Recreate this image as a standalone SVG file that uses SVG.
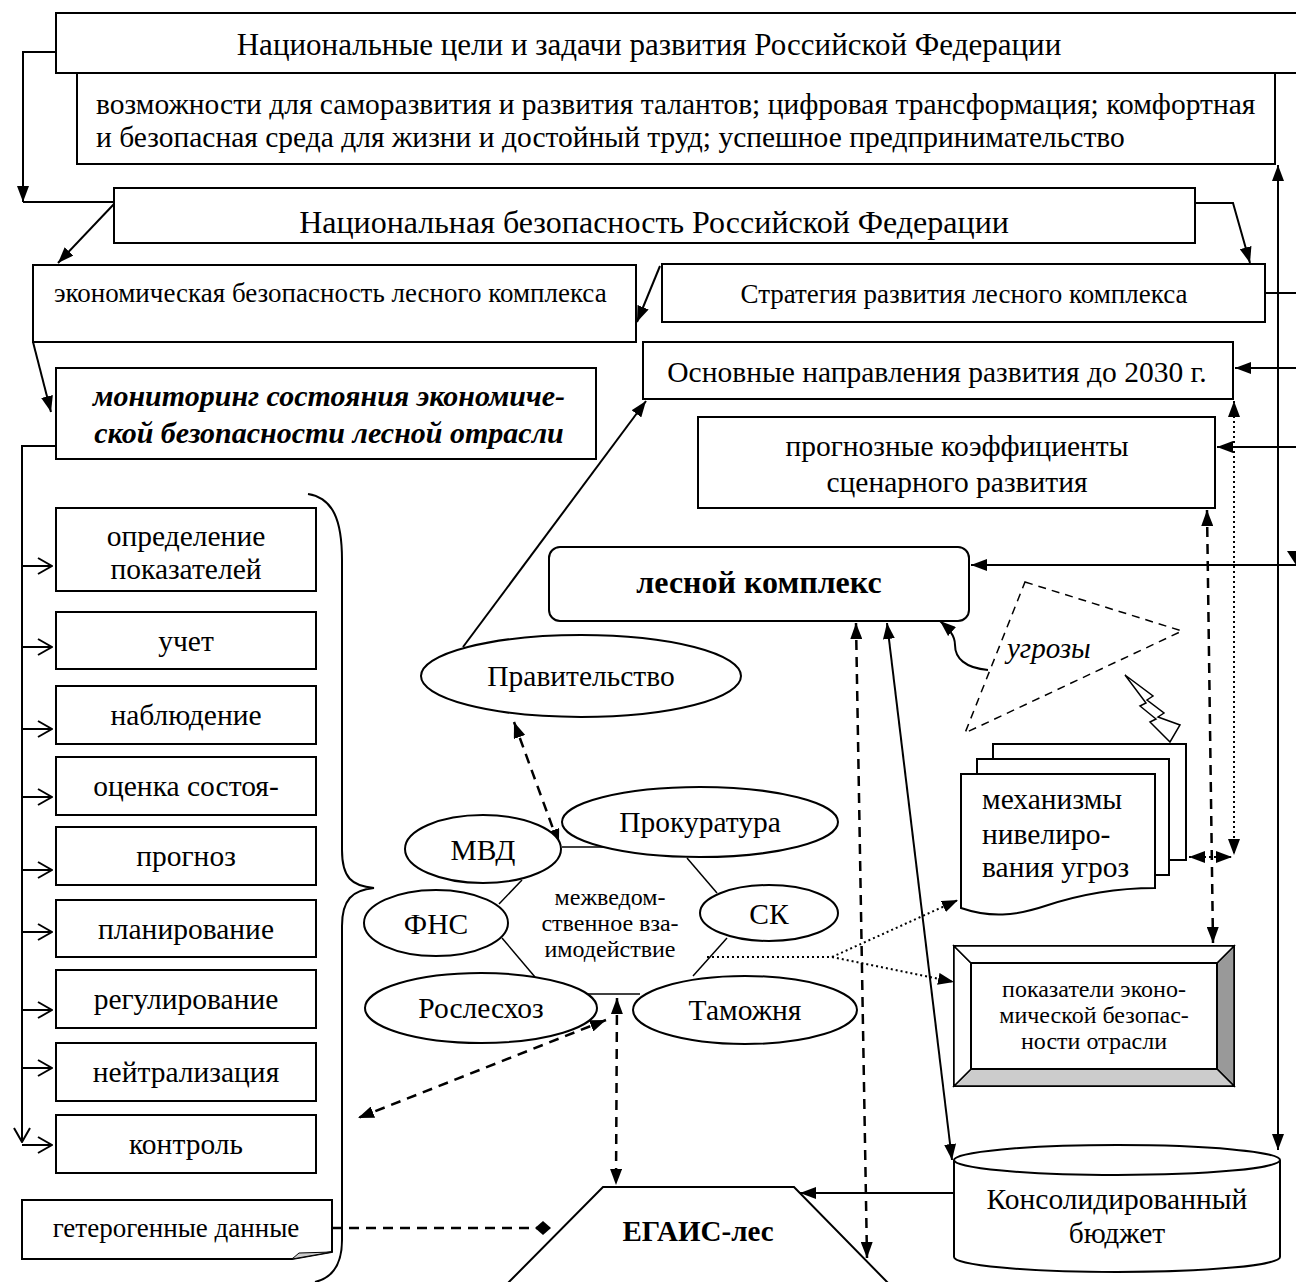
<svg xmlns="http://www.w3.org/2000/svg" width="1296" height="1282" viewBox="0 0 1296 1282">
<style>
text{font-family:"Liberation Serif","Times New Roman",serif;fill:#000}
.c{text-anchor:middle}
.box{fill:#fff;stroke:#000;stroke-width:2}
.ell{fill:#fff;stroke:#000;stroke-width:2}
.ln{fill:none;stroke:#000;stroke-width:2}
.thin{fill:none;stroke:#000;stroke-width:1.5}
.dash{fill:none;stroke:#000;stroke-width:2.5;stroke-dasharray:10 7}
.dot{fill:none;stroke:#000;stroke-width:2;stroke-dasharray:2 3}
.f29{font-size:29.5px}
.f27{font-size:27px}
.f24{font-size:24px}
</style>
<defs>
<marker id="a" viewBox="0 0 16 12" refX="16" refY="6" markerWidth="16" markerHeight="12" markerUnits="userSpaceOnUse" orient="auto-start-reverse"><path d="M0,0 L16,6 L0,12 z" fill="#000"/></marker>
<marker id="o" viewBox="0 0 16 18" refX="15" refY="9" markerWidth="16" markerHeight="18" markerUnits="userSpaceOnUse" orient="auto"><path d="M1,1 L15,9 L1,17" fill="none" stroke="#000" stroke-width="2"/></marker>
<marker id="d" viewBox="0 0 16 14" refX="16" refY="7" markerWidth="16" markerHeight="14" markerUnits="userSpaceOnUse" orient="auto"><path d="M0,7 L8,0 L16,7 L8,14 z" fill="#000"/></marker>
</defs>

<g id="connectors">
<polyline class="ln" points="56,52 23,52 23,202" marker-end="url(#a)"/>
<line class="ln" x1="23" y1="202" x2="114" y2="202"/>
<line class="ln" x1="114" y1="204" x2="58" y2="263" marker-end="url(#a)"/>
<polyline class="ln" points="1195,203 1233,203 1250,263" marker-end="url(#a)"/>
<line class="ln" x1="660" y1="266" x2="637" y2="322" marker-end="url(#a)"/>
<line class="ln" x1="33" y1="342" x2="51" y2="412" marker-end="url(#a)"/>
<polyline class="ln" points="55,446 22,446 22,1142" marker-end="url(#o)"/>
<line class="ln" x1="22" y1="566" x2="52" y2="566" marker-end="url(#o)"/>
<line class="ln" x1="22" y1="647" x2="52" y2="647" marker-end="url(#o)"/>
<line class="ln" x1="22" y1="729" x2="52" y2="729" marker-end="url(#o)"/>
<line class="ln" x1="22" y1="797" x2="52" y2="797" marker-end="url(#o)"/>
<line class="ln" x1="22" y1="870" x2="52" y2="870" marker-end="url(#o)"/>
<line class="ln" x1="22" y1="932" x2="52" y2="932" marker-end="url(#o)"/>
<line class="ln" x1="22" y1="1010" x2="52" y2="1010" marker-end="url(#o)"/>
<line class="ln" x1="22" y1="1068" x2="52" y2="1068" marker-end="url(#o)"/>
<line class="ln" x1="22" y1="1145" x2="52" y2="1145" marker-end="url(#o)"/>
<line class="ln" x1="463" y1="647" x2="646" y2="401" marker-end="url(#a)"/>
<line class="dash" x1="514" y1="722" x2="559" y2="845" marker-start="url(#a)" marker-end="url(#a)"/>
<line class="ln" x1="1265" y1="293" x2="1296" y2="293"/>
<line class="ln" x1="1296" y1="368" x2="1235" y2="368" marker-end="url(#a)"/>
<line class="ln" x1="1296" y1="447" x2="1217" y2="447" marker-end="url(#a)"/>
<line class="ln" x1="1296" y1="565" x2="971" y2="565" marker-end="url(#a)"/>
<path d="M1287,551 L1296,551 L1296,565 z" fill="#000"/>
<line class="ln" x1="1278" y1="1150" x2="1278" y2="165" marker-start="url(#a)" marker-end="url(#a)"/>
<line class="dot" x1="1234" y1="401" x2="1234" y2="855" marker-start="url(#a)" marker-end="url(#a)"/>
<line class="dot" x1="1189" y1="857" x2="1232" y2="857" marker-start="url(#a)" marker-end="url(#a)"/>
<line class="dash" x1="1207" y1="510" x2="1213" y2="943" marker-start="url(#a)" marker-end="url(#a)"/>
<line class="dash" x1="856" y1="623" x2="867" y2="1258" marker-start="url(#a)" marker-end="url(#a)"/>
<line class="ln" x1="887" y1="623" x2="952" y2="1160" marker-start="url(#a)" marker-end="url(#a)"/>
<path class="ln" d="M988,670 C965,668 955,658 955,645 C955,635 948,628 940,621" marker-end="url(#a)"/>
<line class="dot" x1="707" y1="957" x2="832" y2="957"/>
<line class="dot" x1="832" y1="957" x2="958" y2="900" marker-end="url(#a)"/>
<line class="dot" x1="832" y1="957" x2="954" y2="982" marker-end="url(#a)"/>
<line class="dash" x1="606" y1="1020" x2="358" y2="1118" marker-start="url(#a)" marker-end="url(#a)"/>
<line class="dash" x1="617" y1="998" x2="616" y2="1185" marker-start="url(#a)" marker-end="url(#a)"/>
<line class="ln" x1="954" y1="1193" x2="800" y2="1193" marker-end="url(#a)"/>
<line class="dash" x1="332" y1="1228" x2="551" y2="1228" marker-end="url(#d)"/>
<line class="thin" x1="562" y1="847" x2="607" y2="847"/>
<line class="thin" x1="687" y1="858" x2="717" y2="893"/>
<line class="thin" x1="727" y1="938" x2="693" y2="976"/>
<line class="thin" x1="588" y1="994" x2="640" y2="994"/>
<line class="thin" x1="535" y1="977" x2="502" y2="938"/>
<line class="thin" x1="499" y1="904" x2="522" y2="880"/>
</g>

<g id="n-goals">
<rect class="box" x="56" y="13" width="1245" height="60"/>
<text class="c" x="649" y="55" font-size="31">Национальные цели и задачи развития Российской Федерации</text>
</g>
<g id="n-goals-list">
<rect class="box" x="77" y="73" width="1198" height="91"/>
<text class="f29" x="96" y="114">возможности для саморазвития и развития талантов; цифровая трансформация; комфортная</text>
<text class="f29" x="96" y="147">и безопасная среда для жизни и достойный труд; успешное предпринимательство</text>
</g>
<g id="n-natsec">
<rect class="box" x="114" y="188" width="1081" height="55"/>
<text class="c" x="654" y="233" font-size="32">Национальная безопасность Российской Федерации</text>
</g>
<g id="n-econsec">
<rect class="box" x="33" y="265" width="603" height="77"/>
<text class="f27" x="54" y="302">экономическая безопасность лесного комплекса</text>
</g>
<g id="n-strategy">
<rect class="box" x="662" y="264" width="603" height="58"/>
<text class="c f27" x="964" y="303">Стратегия развития лесного комплекса</text>
</g>
<g id="n-directions">
<rect class="box" x="643" y="342" width="590" height="57"/>
<text class="c f29" x="937" y="382">Основные направления развития до 2030 г.</text>
</g>
<g id="n-forecast">
<rect class="box" x="698" y="417" width="517" height="91"/>
<text class="c f29" x="957" y="456">прогнозные коэффициенты</text>
<text class="c f29" x="957" y="492">сценарного развития</text>
</g>
<g id="n-monitoring">
<rect class="box" x="56" y="368" width="540" height="91"/>
<text class="c" x="329" y="406" font-size="30" font-weight="bold" font-style="italic">мониторинг состояния экономиче-</text>
<text class="c" x="329" y="443" font-size="30" font-weight="bold" font-style="italic">ской безопасности лесной отрасли</text>
</g>

<g id="n-list">
<rect class="box" x="56" y="508" width="260" height="83"/>
<text class="c f29" x="186" y="546">определение</text>
<text class="c f29" x="186" y="579">показателей</text>
<rect class="box" x="56" y="612" width="260" height="57"/>
<text class="c f29" x="186" y="651">учет</text>
<rect class="box" x="56" y="686" width="260" height="58"/>
<text class="c f29" x="186" y="725">наблюдение</text>
<rect class="box" x="56" y="757" width="260" height="58"/>
<text class="c f29" x="186" y="796">оценка состоя-</text>
<rect class="box" x="56" y="827" width="260" height="58"/>
<text class="c f29" x="186" y="866">прогноз</text>
<rect class="box" x="56" y="900" width="260" height="57"/>
<text class="c f29" x="186" y="939">планирование</text>
<rect class="box" x="56" y="970" width="260" height="58"/>
<text class="c f29" x="186" y="1009">регулирование</text>
<rect class="box" x="56" y="1043" width="260" height="58"/>
<text class="c f29" x="186" y="1082">нейтрализация</text>
<rect class="box" x="56" y="1115" width="260" height="58"/>
<text class="c f29" x="186" y="1154">контроль</text>
</g>
<g id="n-brace">
<path class="ln" d="M308,494 C333,498 342,520 342,560 L342,850 C342,878 352,886 374,888 C352,890 342,900 342,926 L342,1240 C342,1266 332,1278 315,1282"/>
</g>
<g id="n-hetero">
<path class="box" d="M22,1200 L332,1200 L332,1252 L292,1259 L22,1259 Z"/>
<path d="M292,1259 L299,1253 L332,1252 Z" fill="#ccc" stroke="#000" stroke-width="1"/>
<text class="c f27" x="176" y="1237">гетерогенные данные</text>
</g>

<g id="n-forest">
<rect class="box" x="549" y="547" width="420" height="74" rx="11"/>
<text class="c" x="759" y="593" font-size="32" font-weight="bold">лесной комплекс</text>
</g>
<g id="n-gov">
<ellipse class="ell" cx="581" cy="676" rx="160" ry="41"/>
<text class="c f29" x="581" y="686">Правительство</text>
</g>
<g id="n-prok">
<ellipse class="ell" cx="700" cy="822" rx="138" ry="35"/>
<text class="c f29" x="700" y="832">Прокуратура</text>
</g>
<g id="n-mvd">
<ellipse class="ell" cx="483" cy="849" rx="78" ry="34"/>
<text class="c f29" x="483" y="860">МВД</text>
</g>
<g id="n-fns">
<ellipse class="ell" cx="436" cy="923" rx="72" ry="33"/>
<text class="c f29" x="436" y="934">ФНС</text>
</g>
<g id="n-sk">
<ellipse class="ell" cx="769" cy="913" rx="69" ry="28"/>
<text class="c f29" x="769" y="924">СК</text>
</g>
<g id="n-rosles">
<ellipse class="ell" cx="481" cy="1008" rx="116" ry="35"/>
<text class="c f29" x="481" y="1018">Рослесхоз</text>
</g>
<g id="n-customs">
<ellipse class="ell" cx="745" cy="1010" rx="112" ry="34"/>
<text class="c f29" x="745" y="1020">Таможня</text>
</g>
<g id="n-interagency">
<text class="c f24" x="610" y="905">межведом-</text>
<text class="c f24" x="610" y="931">ственное вза-</text>
<text class="c f24" x="610" y="957">имодействие</text>
</g>

<g id="n-threats">
<polygon points="1025,582 1182,631 965,733" fill="none" stroke="#000" stroke-width="1.5" stroke-dasharray="8 6"/>
<text x="1007" y="658" font-size="29" font-style="italic">угрозы</text>
<polygon points="1125,675 1153,696 1147,700 1164,713 1158,717 1180,725 1170,742 1150,722 1156,719 1140,706 1146,703" fill="#fff" stroke="#000" stroke-width="1.5"/>
</g>
<g id="n-mechanisms">
<rect class="box" x="993" y="744" width="193" height="116"/>
<rect class="box" x="977" y="759" width="192" height="116"/>
<path class="box" d="M961,774 L1155,774 L1155,888 C1110,888 1075,896 1045,906 C1015,916 990,918 961,908 Z"/>
<text class="f29" x="982" y="809">механизмы</text>
<text class="f29" x="982" y="844">нивелиро-</text>
<text class="f29" x="982" y="877">вания угроз</text>
</g>
<g id="n-indicators">
<rect x="954" y="946" width="280" height="140" fill="#fff" stroke="#000" stroke-width="2"/>
<polygon points="1234,946 1234,1086 1217,1069 1217,963" fill="#999" stroke="#000" stroke-width="1.5"/>
<polygon points="954,1086 1234,1086 1217,1069 971,1069" fill="#ccc" stroke="#000" stroke-width="1.5"/>
<polygon points="954,946 971,963 971,1069 954,1086" fill="#fff" stroke="#000" stroke-width="1.5"/>
<polygon points="954,946 1234,946 1217,963 971,963" fill="#fff" stroke="#000" stroke-width="1.5"/>
<rect x="971" y="963" width="246" height="106" fill="#fff" stroke="#000" stroke-width="2"/>
<text class="c f24" x="1094" y="997">показатели эконо-</text>
<text class="c f24" x="1094" y="1023">мической безопас-</text>
<text class="c f24" x="1094" y="1049">ности отрасли</text>
</g>
<g id="n-budget">
<path class="box" d="M954,1160 A163,15 0 0 1 1280,1160 L1280,1257 A163,15 0 0 1 954,1257 Z"/>
<path class="ln" d="M954,1160 A163,15 0 0 0 1280,1160"/>
<text class="c f29" x="1117" y="1209">Консолидированный</text>
<text class="c f29" x="1117" y="1243">бюджет</text>
</g>
<g id="n-egais">
<polygon points="603,1187 794,1187 891,1286 505,1286" fill="#fff" stroke="#000" stroke-width="2"/>
<text class="c" x="698" y="1241" font-size="29" font-weight="bold">ЕГАИС-лес</text>
</g>
</svg>
